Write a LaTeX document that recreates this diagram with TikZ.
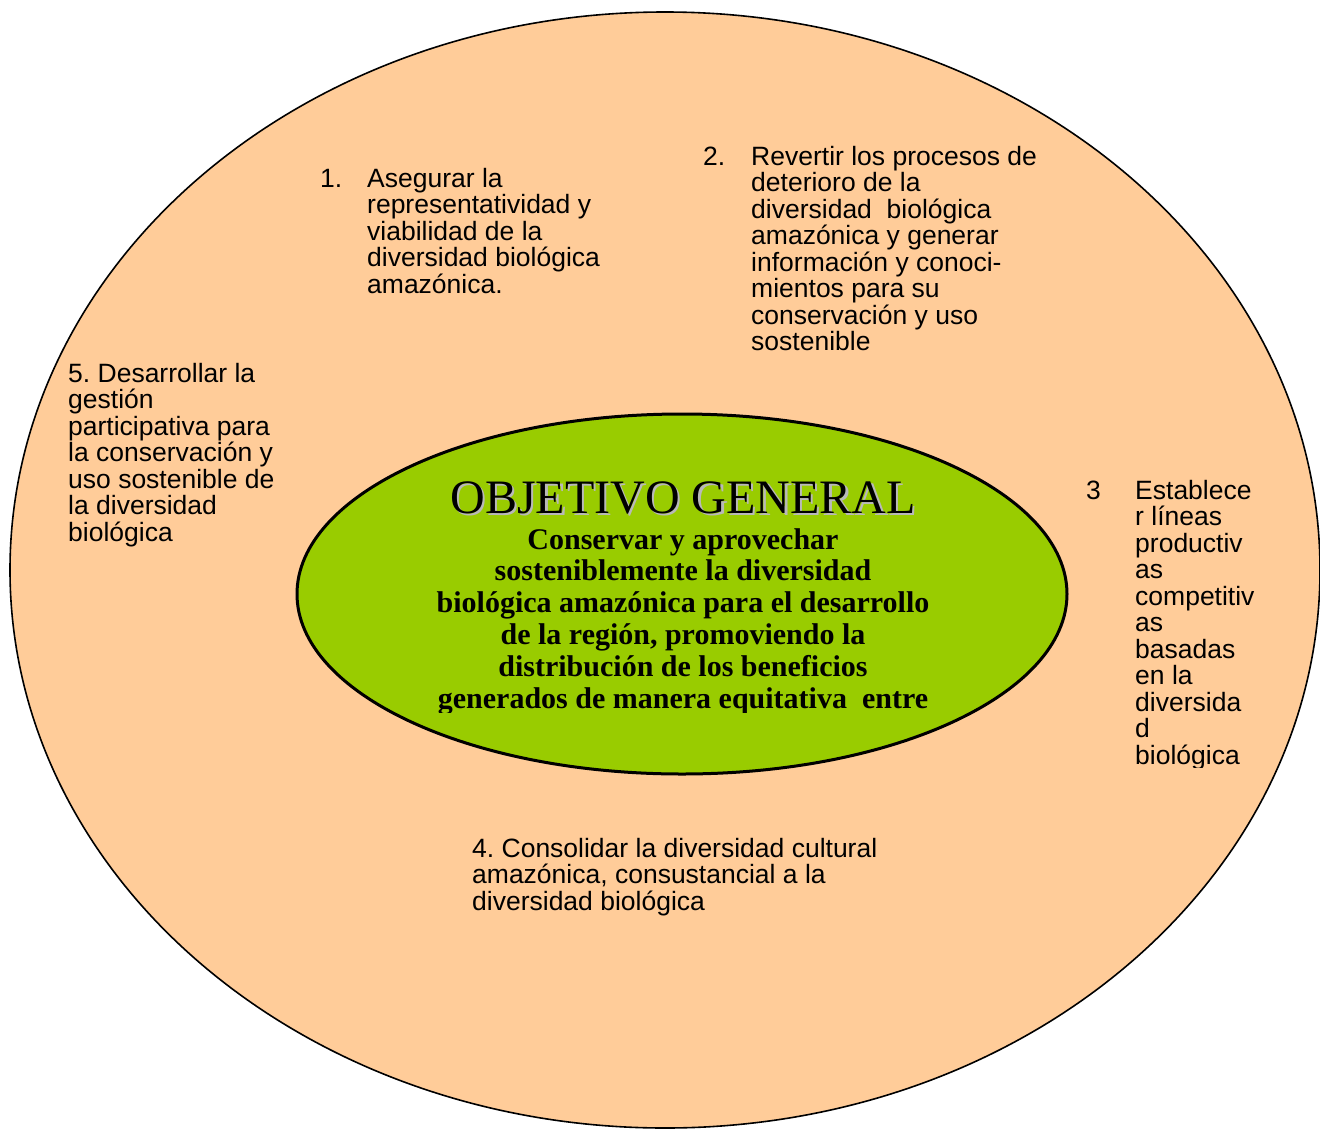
\documentclass[tikz,border=0pt]{standalone}
\usepackage{fontspec}
\setmainfont{Liberation Serif}
\newfontfamily\itemsans{Liberation Sans}
\frenchspacing
\definecolor{peach}{RGB}{255,204,153}
\definecolor{leaf}{RGB}{153,204,0}
\definecolor{shadowgray}{RGB}{185,185,185}
\tikzset{
  outerell/.style={draw=black, line width=1.6pt, fill=peach},
  innerell/.style={draw=black, line width=3pt, fill=leaf},
  itemtext/.style={anchor=base west, align=left, inner sep=0pt, font=\itemsans\frenchspacing\fontsize{26.5}{26.5}\selectfont},
  titletext/.style={anchor=base, inner sep=0pt, font=\fontsize{48}{48}\selectfont},
  bodytext/.style={anchor=base, align=center, inner sep=0pt, font=\bfseries\fontsize{30}{31.8}\selectfont}
}
\begin{document}
\begin{tikzpicture}[x=1pt,y=-1pt]
\useasboundingbox (0,0) rectangle (1320,1130);
\fill[white] (0,0) rectangle (1320,1130);
\draw[outerell] (665,570) ellipse [x radius=655pt, y radius=558pt];
\draw[innerell] (682,594) ellipse [x radius=385pt, y radius=180pt];
% title with shadow
\node[titletext, text=shadowgray] (titleshadow) at (685.5,515.5) {OBJETIVO GENERAL};
\node[titletext] (title) at (683,513) {OBJETIVO GENERAL};
\begin{scope}
\clip (290,520) rectangle (1075,712);
% base anchor = baseline of last line
\node[bodytext] (body) at (683,708) {Conservar y aprovechar\\sosteniblemente la diversidad\\biológica amazónica para el desarrollo\\de la región, promoviendo la\\distribución de los beneficios\\generados de manera equitativa \ entre};
\end{scope}
% item 1 (first baseline 187)
\node[itemtext] (num1) at (320,187) {1.};
\node[itemtext] (txt1) at (367,293) {Asegurar la\\representatividad y\\viabilidad de la\\diversidad biológica\\amazónica.};
% item 2 (first baseline 165)
\node[itemtext] (num2) at (703,165) {2.};
\node[itemtext] (txt2) at (751,350.5) {Revertir los procesos de\\deterioro de la\\diversidad \ biológica\\amazónica y generar\\información y conoci-\\mientos para su\\conservación y uso\\sostenible};
% item 3 (first baseline 499)
\node[itemtext] (num3) at (1086,499) {3};
\begin{scope}
\clip (1120,470) rectangle (1300,767);
\node[itemtext] (txt3) at (1135,764) {Establece\\r líneas\\productiv\\as\\competitiv\\as\\basadas\\en la\\diversida\\d\\biológica};
\end{scope}
% item 4 (first baseline 857)
\node[itemtext] (txt4) at (472,910) {4. Consolidar la diversidad cultural\\amazónica, consustancial a la\\diversidad biológica};
% item 5 (first baseline 382)
\node[itemtext] (txt5) at (68,541) {5. Desarrollar la\\gestión\\participativa para\\la conservación y\\uso sostenible de\\la diversidad\\biológica};
\end{tikzpicture}
\end{document}
